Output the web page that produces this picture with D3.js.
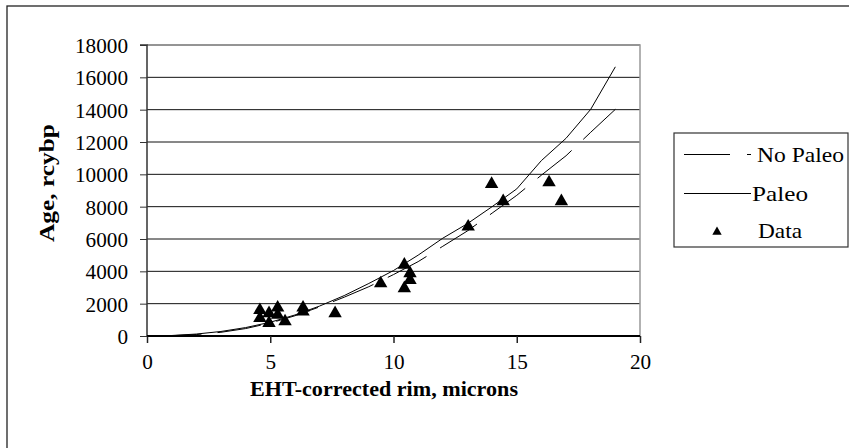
<!DOCTYPE html>
<html><head><meta charset="utf-8">
<script src="https://cdn.jsdelivr.net/npm/d3@7"></script>
<style>body{margin:0;background:#fff}svg{display:block}</style>
</head><body>
<script>
const dataX = [4.58,4.58,4.95,4.95,5.3,5.3,5.6,6.33,6.33,7.63,9.48,10.44,10.44,10.67,10.67,13.03,13.98,14.45,16.31,16.81];
const dataY = [1600,1100,1400,800,1750,1300,900,1750,1500,1400,3250,4400,2950,3880,3460,6760,9400,8330,9500,8330];
const curveX = [0,1,2,3,4,5,6,7,8,9,10,11,12,13,14,15,16,17,18,19];
const paleoY = [0,30,120,280,520,850,1300,1850,2500,3250,4050,5000,6050,6950,8000,9100,10850,12230,14020,16650];
const noPaleoY = [0,20,90,230,460,800,1250,1800,2400,3050,3800,4600,5550,6500,7600,8700,9950,11150,12600,14020];
const yTicks = [0,2000,4000,6000,8000,10000,12000,14000,16000,18000];
const xTicks = [0,5,10,15,20];
const legendLabels = ["No Paleo","Paleo","Data"];

const W=849,H=448;
const svg=d3.select("body").append("svg").attr("width",W).attr("height",H);
const font="'Liberation Serif','Times New Roman',serif";
svg.append("rect").attr("x",7).attr("y",6).attr("width",W+10).attr("height",H+10)
  .attr("fill","#fff").attr("stroke","#222").attr("stroke-width",1.3);

const x=d3.scaleLinear().domain([0,20]).range([147,640]);
const y=d3.scaleLinear().domain([0,18000]).range([336,45]);

svg.append("g").selectAll("line").data(yTicks.filter(d=>d>0)).join("line")
  .attr("x1",x(0)).attr("x2",x(20)).attr("y1",d=>y(d)).attr("y2",d=>y(d))
  .attr("stroke","#111").attr("stroke-width",1);
svg.append("path").attr("d",`M${x(0)},${y(18000)}H${x(20)}V${y(0)}`)
  .attr("fill","none").attr("stroke","#999").attr("stroke-width",1.5);

const yAxis=d3.axisLeft(y).tickValues(yTicks).tickSize(7).tickPadding(12).tickFormat(d3.format("d"));
const gy=svg.append("g").attr("transform",`translate(${x(0)},0)`).call(yAxis);
gy.attr("font-family",null).attr("font-size",null);
gy.select(".domain").attr("stroke","#333").attr("stroke-width",1.5).attr("d",`M-7,${y(18000)}H0V${y(0)}`);
gy.selectAll(".tick line").attr("stroke","#333");
gy.selectAll("text").attr("font-family",font).attr("font-size",22).attr("fill","#000")
  .attr("dy","0.34em").attr("textLength",function(){return this.textContent.length*10.6;}).attr("lengthAdjust","spacingAndGlyphs");

const xAxis=d3.axisBottom(x).tickValues(xTicks).tickSize(7).tickPadding(10);
const gx=svg.append("g").attr("transform",`translate(0,${y(0)})`).call(xAxis);
gx.attr("font-family",null).attr("font-size",null);
gx.select(".domain").attr("stroke","#000").attr("stroke-width",2).attr("d",`M${x(0)},0H${x(20)}`);
gx.selectAll(".tick line").attr("stroke","#222").attr("stroke-width",1.5);
gx.selectAll("text").attr("font-family",font).attr("font-size",22).attr("fill","#000")
  .attr("textLength",function(){return this.textContent.length*10.6;}).attr("lengthAdjust","spacingAndGlyphs");

const line=d3.line().x(d=>x(d[0])).y(d=>y(d[1]));
const dashed=svg.append("path").datum(curveX.map((v,i)=>[v,noPaleoY[i]])).attr("d",line)
  .attr("fill","none").attr("stroke","#000").attr("stroke-width",1).attr("stroke-dasharray","44,16");
const L=dashed.node().getTotalLength();
dashed.attr("stroke-dashoffset",(((44-L)%60)+60)%60);
svg.append("path").datum(curveX.map((v,i)=>[v,paleoY[i]])).attr("d",line)
  .attr("fill","none").attr("stroke","#000").attr("stroke-width",1);

const tri=d3.symbol().type(d3.symbolTriangle).size(78);
svg.append("g").selectAll("path").data(dataX.map((v,i)=>[v,dataY[i]])).join("path")
  .attr("d",tri).attr("transform",d=>`translate(${x(d[0])},${y(d[1])})`).attr("fill","#000");

svg.append("text").attr("x",384).attr("y",396).attr("text-anchor","middle")
  .attr("font-family",font).attr("font-weight","bold").attr("font-size",21)
  .attr("textLength",268).attr("lengthAdjust","spacingAndGlyphs").text("EHT-corrected rim, microns");
svg.append("text").attr("transform","translate(54,183) rotate(-90)").attr("text-anchor","middle")
  .attr("font-family",font).attr("font-weight","bold").attr("font-size",22)
  .attr("textLength",118).attr("lengthAdjust","spacingAndGlyphs").text("Age, rcybp");

const lg=svg.append("g");
lg.append("rect").attr("x",674).attr("y",133).attr("width",174).attr("height",114)
  .attr("fill","#fff").attr("stroke","#333").attr("stroke-width",1.2);
lg.append("line").attr("x1",684).attr("x2",751).attr("y1",154.5).attr("y2",154.5)
  .attr("stroke","#000").attr("stroke-dasharray","46,17");
lg.append("line").attr("x1",684).attr("x2",751).attr("y1",193.5).attr("y2",193.5).attr("stroke","#000");
lg.append("path").attr("d",d3.symbol().type(d3.symbolTriangle).size(38)).attr("transform","translate(717,232)");
const ly=[162,201,238], lx=[757,752,758], lw=[87,56,44];
lg.selectAll("text").data(legendLabels).join("text")
  .attr("x",(d,i)=>lx[i]).attr("y",(d,i)=>ly[i]).attr("font-family",font).attr("font-size",22)
  .attr("textLength",(d,i)=>lw[i]).attr("lengthAdjust","spacingAndGlyphs").text(d=>d);
</script>
</body></html>
